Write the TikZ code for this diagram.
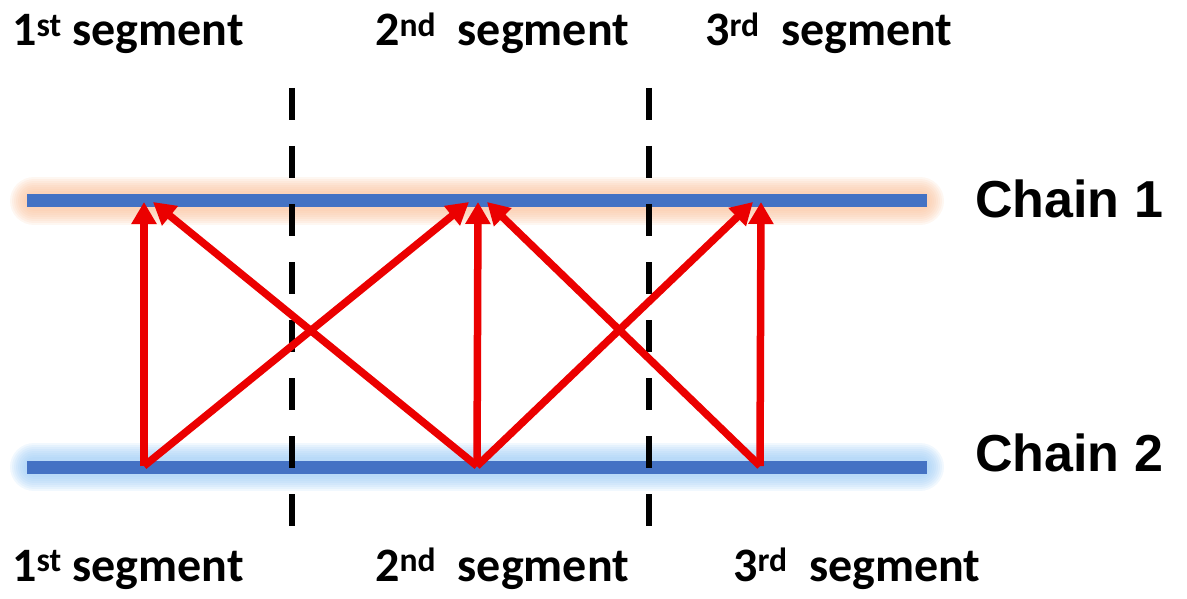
\documentclass[tikz,border=0pt]{standalone}
\usepackage{fontspec}
\setmainfont{Carlito}
\newfontfamily\chainfont{Liberation Sans}
\usetikzlibrary{arrows.meta}
\definecolor{chainblue}{RGB}{68,114,196}
\definecolor{glowor}{RGB}{250,190,150}
\definecolor{glowbl}{RGB}{150,200,245}
\definecolor{arrred}{RGB}{235,0,0}
\tikzset{
  seglabel/.style={anchor=base west, inner sep=0pt, font=\fontsize{48}{54}\selectfont\bfseries},
  chainlabel/.style={anchor=base west, inner sep=0pt, font=\chainfont\fontsize{52}{58}\selectfont\bfseries},
  chainline/.style={draw=chainblue, line width=13pt},
  glowline/.style={line width=#1, opacity=0.13, line cap=round},
  divider/.style={draw=black, line width=6pt, dash pattern=on 32pt off 26pt},
  link/.style={draw=arrred, line width=7.5pt, -{Triangle[length=22pt,width=24pt]}}
}
\begin{document}
\begin{tikzpicture}[x=1pt,y=-1pt]
\useasboundingbox (0,0) rectangle (1187,599);
% glows
\foreach \w in {48pt,44pt,40pt,36pt,32pt,28pt,24pt,20pt}{
  \draw[glowline=\w, draw=glowor] (34,201) -- (920,201);
  \draw[glowline=\w, draw=glowbl] (34,467) -- (920,467);
}
% chains
\coordinate (c1w) at (27,201);
\coordinate (c1e) at (927,201);
\coordinate (c2w) at (27,467);
\coordinate (c2e) at (927,467);
\draw[chainline] (c1w) -- (c1e);
\draw[chainline] (c2w) -- (c2e);
% dividers
\coordinate (d1t) at (292,88);
\coordinate (d1b) at (292,528);
\coordinate (d2t) at (649,88);
\coordinate (d2b) at (649,528);
\draw[divider] (d1t) -- (d1b);
\draw[divider] (d2t) -- (d2b);
% bottom points
\coordinate (b1) at (144,466);
\coordinate (b2) at (477,466);
\coordinate (b3) at (760,466);
% top tips
\coordinate (t1v) at (144,202);
\coordinate (t1d) at (153,202);
\coordinate (t2l) at (469,202);
\coordinate (t2v) at (478,202);
\coordinate (t2r) at (487,202);
\coordinate (t3d) at (753,202);
\coordinate (t3v) at (761,202);
% arrows
\draw[link] (b1) -- (t1v);
\draw[link] (b2) -- (t1d);
\draw[link] (b1) -- (t2l);
\draw[link] (b2) -- (t2v);
\draw[link] (b3) -- (t2r);
\draw[link] (b2) -- (t3d);
\draw[link] (b3) -- (t3v);
% labels
\node[seglabel] (s1t) at (12,46) {1\textsuperscript{st} segment};
\node[seglabel] (s2t) at (375,46) {2\textsuperscript{nd}\ \ segment};
\node[seglabel] (s3t) at (705,46) {3\textsuperscript{rd}\ \ segment};
\node[seglabel] (s1b) at (12,581) {1\textsuperscript{st} segment};
\node[seglabel] (s2b) at (375,581) {2\textsuperscript{nd}\ \ segment};
\node[seglabel] (s3b) at (733,581) {3\textsuperscript{rd}\ \ segment};
\node[chainlabel] (ch1) at (975,218) {Chain 1};
\node[chainlabel] (ch2) at (975,471) {Chain 2};
\end{tikzpicture}
\end{document}
